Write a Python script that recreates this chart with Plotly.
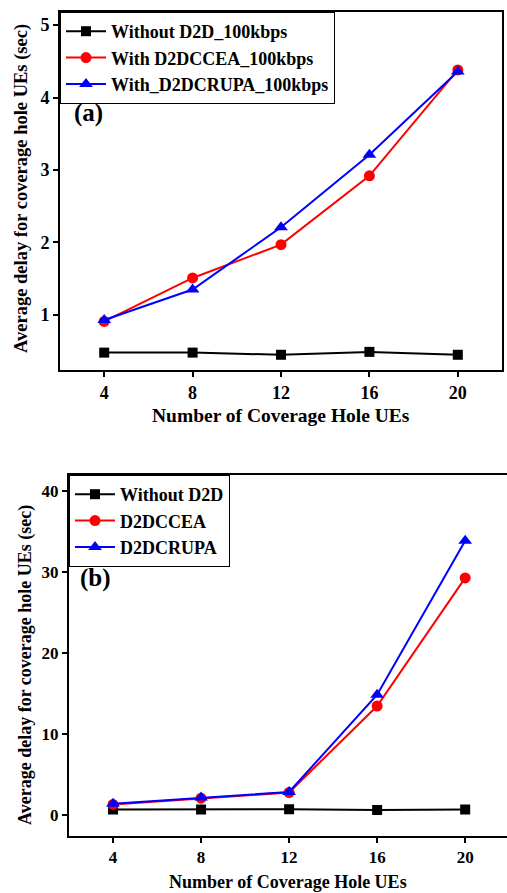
import plotly.graph_objects as go

x_vals = [4, 8, 12, 16, 20]

# Panel (a)
a_without = [0.48, 0.48, 0.45, 0.49, 0.45]
a_ccea = [0.91, 1.51, 1.97, 2.92, 4.38]
a_crupa = [0.93, 1.35, 2.21, 3.21, 4.36]
a_names = ["Without D2D_100kbps", "With D2DCCEA_100kbps", "With_D2DCRUPA_100kbps"]

# Panel (b)
b_without = [0.74, 0.74, 0.76, 0.66, 0.74]
b_ccea = [1.36, 2.13, 2.83, 13.5, 29.3]
b_crupa = [1.43, 2.2, 2.9, 14.9, 33.9]
b_names = ["Without D2D", "D2DCCEA", "D2DCRUPA"]

FONT = "Liberation Serif"
W, H = 507, 893

colors = ["black", "red", "blue"]
symbols = ["square", "circle", "triangle-up"]
msizes = [10, 11, 12]

fig = go.Figure()

for i, (ys, name) in enumerate(zip([a_without, a_ccea, a_crupa], a_names)):
    fig.add_trace(go.Scatter(x=x_vals, y=ys, name=name, mode="lines+markers",
                             line=dict(color=colors[i], width=2),
                             marker=dict(symbol=symbols[i], size=msizes[i], color=colors[i]),
                             xaxis="x", yaxis="y", legend="legend"))
for i, (ys, name) in enumerate(zip([b_without, b_ccea, b_crupa], b_names)):
    fig.add_trace(go.Scatter(x=x_vals, y=ys, name=name, mode="lines+markers",
                             line=dict(color=colors[i], width=2),
                             marker=dict(symbol=symbols[i], size=msizes[i], color=colors[i]),
                             xaxis="x2", yaxis="y2", legend="legend2"))

def px_x(p):
    return p / W

def px_y(p):
    return 1 - p / H

tickfont_a = dict(family=FONT, size=18, color="black", weight="bold")
tickfont_b = dict(family=FONT, size=17, color="black", weight="bold")

common = dict(showgrid=False, zeroline=False, showline=True, linecolor="black", linewidth=2,
              ticks="outside", ticklen=5, tickwidth=2, tickcolor="black")

fig.update_layout(
    width=W, height=H,
    margin=dict(l=0, r=0, t=0, b=0),
    paper_bgcolor="white", plot_bgcolor="white",
    xaxis=dict(domain=[px_x(60), px_x(502)], range=[2, 22], tickvals=x_vals,
               tickfont=tickfont_a, mirror=True, anchor="y", **common),
    yaxis=dict(domain=[px_y(370), px_y(12)], range=[0.24, 5.18], tickvals=[1, 2, 3, 4, 5],
               tickfont=tickfont_a, mirror=True, anchor="x", **common),
    xaxis2=dict(domain=[px_x(69), 1.0], range=[2, 21.9], tickvals=x_vals,
                tickfont=tickfont_b, mirror=True, anchor="y2", **common),
    yaxis2=dict(domain=[px_y(835.7), px_y(475)], range=[-2.5, 42], tickvals=[0, 10, 20, 30, 40],
                tickfont=tickfont_b, mirror=False, anchor="x2", **common),
    legend=dict(x=px_x(60), y=px_y(12), xanchor="left", yanchor="top",
                bgcolor="white", bordercolor="black", borderwidth=1,
                font=dict(family=FONT, size=18, color="black", weight="bold"),
                tracegroupgap=0, itemwidth=40),
    legend2=dict(x=px_x(69), y=px_y(475), xanchor="left", yanchor="top",
                 bgcolor="white", bordercolor="black", borderwidth=1,
                 font=dict(family=FONT, size=18, color="black", weight="bold"),
                 tracegroupgap=0, itemwidth=40),
    showlegend=True,
)

annots = [
    dict(text="(a)", x=px_x(88), y=px_y(113), font=dict(family=FONT, size=25, weight="bold")),
    dict(text="(b)", x=px_x(95), y=px_y(578), font=dict(family=FONT, size=25, weight="bold")),
    dict(text="Average delay for coverage hole UEs (sec)", x=px_x(21), y=px_y(189), textangle=-90,
         font=dict(family=FONT, size=18.5, weight="bold")),
    dict(text="Average delay for coverage hole UEs (sec)", x=px_x(25), y=px_y(665), textangle=-90,
         font=dict(family=FONT, size=18, weight="bold")),
    dict(text="Number of Coverage Hole UEs", x=px_x(281), y=px_y(415),
         font=dict(family=FONT, size=19.5, weight="bold")),
    dict(text="Number of Coverage Hole UEs", x=px_x(288), y=px_y(882),
         font=dict(family=FONT, size=18, weight="bold")),
]
for a in annots:
    a["font"]["color"] = "black"
    fig.add_annotation(xref="paper", yref="paper", showarrow=False,
                       xanchor="center", yanchor="middle", **a)

fig.write_html("out.html", config={"displayModeBar": False},
               post_script="document.body.style.margin='0';document.body.style.overflow='hidden';")
